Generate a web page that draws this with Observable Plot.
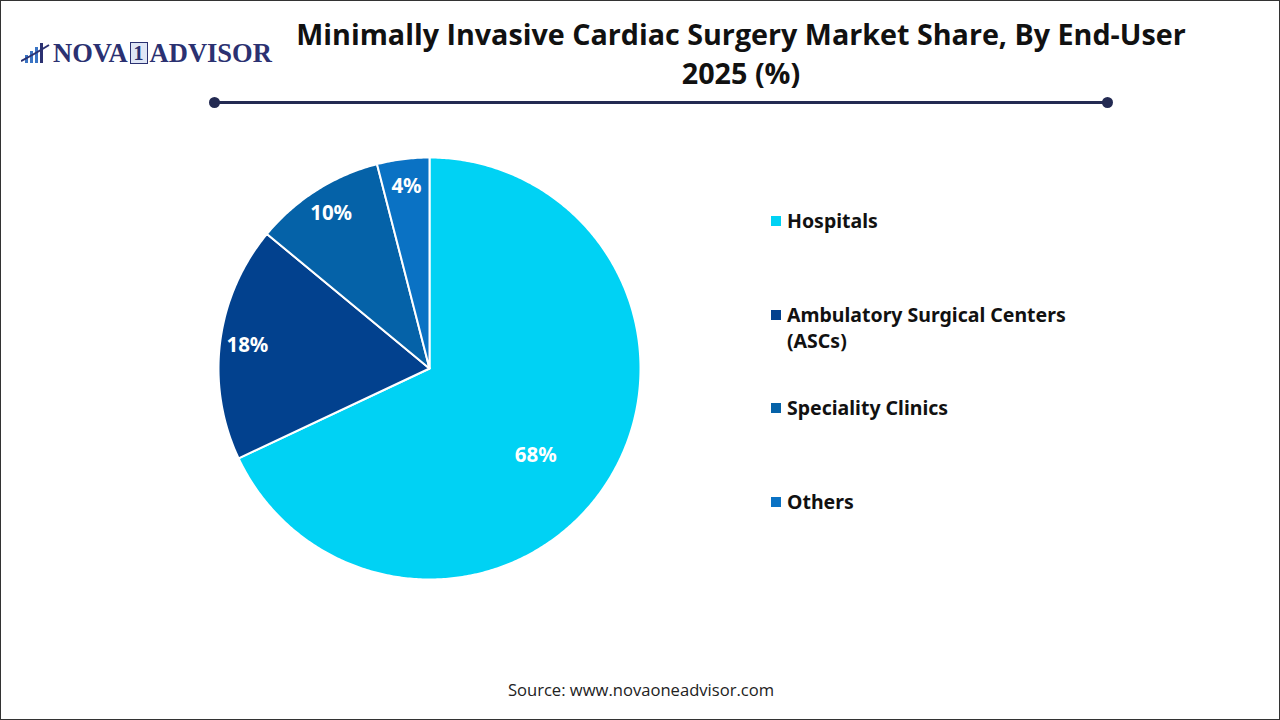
<!DOCTYPE html>
<html><head><meta charset="utf-8">
<script src="https://cdn.jsdelivr.net/npm/d3@7"></script>
<script src="https://cdn.jsdelivr.net/npm/@observablehq/plot@0.6"></script>
<style>
html,body{margin:0;padding:0;background:#fff;}
#frame{position:relative;width:1280px;height:720px;box-sizing:border-box;border:1.5px solid #333;overflow:hidden;font-family:"Noto Sans",sans-serif;}
#title{position:absolute;left:190px;width:1100px;top:13px;text-align:center;font-family:"Open Sans",sans-serif;font-weight:700;font-size:28.7px;line-height:39px;color:#111;}
#rule{position:absolute;left:213px;top:100px;width:894px;height:3px;background:#232a52;}
.dot{position:absolute;top:96px;width:11px;height:11px;border-radius:50%;background:#232a52;}
#logo{position:absolute;left:20px;top:36px;height:32px;display:flex;align-items:center;font-family:"Liberation Serif",serif;font-weight:700;font-size:26.5px;color:#2b3171;}
#logo .one{display:inline-block;border:1.5px solid #2b3171;font-size:20px;line-height:20px;padding:0 3px;margin:0 2px;color:#2b3171;background:#dfe6f5;}
#chart{position:absolute;left:208px;top:147px;}
#legend{position:absolute;left:770px;top:0;}
.item{position:absolute;left:0;display:flex;align-items:flex-start;width:340px;}
.sw{width:10px;height:10px;margin-top:8px;margin-right:6px;flex:none;}
.lab{font-family:"Noto Sans",sans-serif;font-weight:700;font-size:19.5px;line-height:26px;color:#111;width:300px;}
#source{position:absolute;left:0;width:1280px;top:677px;text-align:center;font-family:"Open Sans",sans-serif;font-size:16.6px;color:#222;}
</style></head>
<body>
<div id="frame">
  <div id="logo">
    <svg width="30" height="24" viewBox="0 0 30 24" style="margin-right:2px">
      <rect x="4" y="14" width="3" height="8" fill="#3a74c4"/>
      <rect x="9" y="10" width="3" height="12" fill="#3a74c4"/>
      <rect x="14" y="6" width="3" height="16" fill="#3a74c4"/>
      <rect x="19" y="2" width="3" height="20" fill="#2b3171"/>
      <path d="M0 20 Q12 14 28 4" stroke="#2b3171" stroke-width="2" fill="none"/>
    </svg>
    <span>NOVA</span><span class="one">1</span><span>ADVISOR</span>
  </div>
  <div id="title">Minimally Invasive Cardiac Surgery Market Share, By End-User<br>2025 (%)</div>
  <div class="dot" style="left:208px"></div>
  <div id="rule"></div>
  <div class="dot" style="left:1101px"></div>
  <div id="chart"></div>
  <div id="legend"></div>
  <div id="source">Source: www.novaoneadvisor.com</div>
</div>
<script>
const categories = ["Hospitals", "Ambulatory Surgical Centers (ASCs)", "Speciality Clinics", "Others"];
const shares = [68, 18, 10, 4];
const palette = ["#00D2F4", "#02418E", "#0562A8", "#0A72C4"];

const rows = categories.map((name, i) => ({name, share: shares[i]}));
const arcs = d3.pie().sort(null).value(d => d.share)(rows);

// Polygon points for each slice (unit circle, angle clockwise from 12 o'clock)
const pts = [];
for (const a of arcs) {
  const name = a.data.name;
  pts.push({name, x: 0, y: 0});
  const n = Math.max(2, Math.ceil((a.endAngle - a.startAngle) / 0.01));
  for (let k = 0; k <= n; k++) {
    const t = a.startAngle + (a.endAngle - a.startAngle) * k / n;
    pts.push({name, x: Math.sin(t), y: Math.cos(t)});
  }
}
const labels = arcs.map(a => {
  const m = (a.startAngle + a.endAngle) / 2 + (a.data.share >= 50 ? 0.12 : 0);
  const r = a.data.share >= 50 ? 0.65 : 0.87;
  return {x: r * Math.sin(m), y: r * Math.cos(m), text: a.data.share + "%"};
});

const R = 211, S = 440, k = (S / 2) / R;
const chart = Plot.plot({
  width: S, height: S, margin: 0,
  x: {domain: [-k, k], axis: null},
  y: {domain: [-k, k], axis: null},
  color: {domain: categories, range: palette},
  marks: [
    Plot.line(pts, {x: "x", y: "y", z: "name", fill: "name", stroke: "white", strokeWidth: 2, curve: "linear-closed"}),
    Plot.text(labels, {x: "x", y: "y", text: "text", fill: "white", fontSize: 20.5, fontWeight: "bold", fontFamily: "Noto Sans"})
  ]
});
document.getElementById("chart").appendChild(chart);

const legendTops = [207, 301, 394, 488];
const legend = document.getElementById("legend");
categories.forEach((c, i) => {
  const it = document.createElement("div");
  it.className = "item";
  it.style.top = legendTops[i] + "px";
  it.innerHTML = `<div class="sw" style="background:${palette[i]}"></div><div class="lab">${c}</div>`;
  legend.appendChild(it);
});
</script>
</body></html>
